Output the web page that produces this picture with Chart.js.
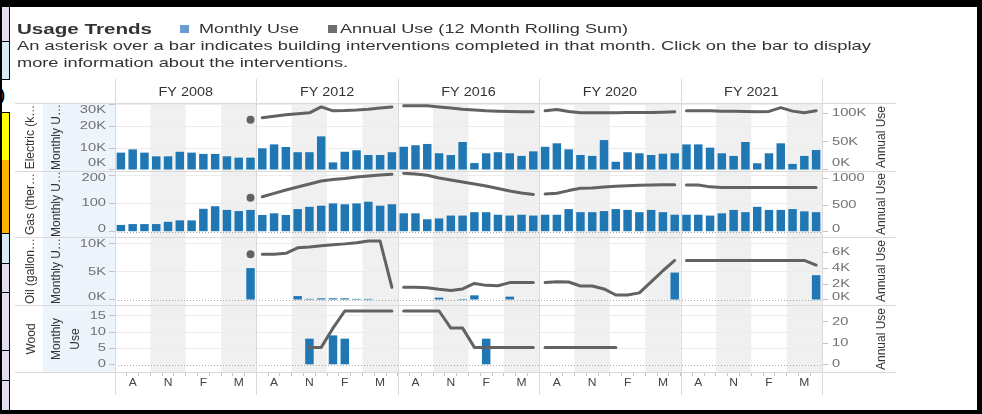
<!DOCTYPE html>
<html>
<head>
<meta charset="utf-8">
<script src="https://cdn.jsdelivr.net/npm/chart.js@4.4.1/dist/chart.umd.min.js"></script>
<style>
  body { margin: 0; background: #fff; font-family: "Liberation Sans", Arial, sans-serif; color: #333; }
  #page { position: relative; width: 982px; height: 414px; overflow: hidden; background: #fff; }
  .abs { position: absolute; }
  .t { position: absolute; white-space: nowrap; line-height: 1; transform-origin: 0 50%; color: #333; }
  .rot { position: absolute; white-space: nowrap; font-size: 12px; line-height: 14px; text-align: center; color: #333;
         transform: translate(-50%, -50%) rotate(-90deg); }
</style>
</head>
<body>
<div id="page">
  <!-- frame around the dashboard piece -->
  <div class="abs" style="left:0;top:0;width:982px;height:7px;background:#000"></div>
  <div class="abs" style="left:977px;top:0;width:5px;height:414px;background:#000"></div>
  <div class="abs" style="left:0;top:410px;width:982px;height:4px;background:#000"></div>
  <div class="abs" style="left:0;top:0;width:2px;height:414px;background:#000"></div>
  <div class="abs" style="left:2px;top:7px;width:7px;height:34px;background:#e4ddee;border-right:1px solid #000;border-bottom:1px solid #000"></div>
  <div class="abs" style="left:2px;top:42px;width:7px;height:37px;background:#d6eef3;border-right:1px solid #000;border-bottom:1px solid #000"></div>
  <div class="abs" style="left:0;top:86px;font:bold 15px 'Liberation Sans',Arial;color:#000">)</div>
  <div class="abs" style="left:2px;top:112px;width:7px;height:47px;background:#ffff00;border:1px solid #000;border-left:0"></div>
  <div class="abs" style="left:2px;top:160px;width:7px;height:73px;background:#ffb300;border-right:1px solid #000;border-bottom:1px solid #000"></div>
  <div class="abs" style="left:2px;top:234px;width:7px;height:29px;background:#d6eef3;border-right:1px solid #000;border-bottom:1px solid #000"></div>
  <div class="abs" style="left:2px;top:264px;width:7px;height:28px;background:#e4ddee;border-right:1px solid #000;border-bottom:1px solid #000"></div>
  <div class="abs" style="left:2px;top:293px;width:7px;height:57px;background:#e4ddee;border-right:1px solid #000;border-bottom:1px solid #000"></div>
  <div class="abs" style="left:2px;top:351px;width:7px;height:29px;background:#e4ddee;border-right:1px solid #000;border-bottom:1px solid #000"></div>
  <div class="abs" style="left:2px;top:381px;width:7px;height:29px;background:#e4ddee;border-right:1px solid #000"></div>

  <!-- row header tint -->
  <div class="abs" style="left:43px;top:103px;width:72px;height:269px;background:#eef4fb"></div>

  <canvas id="usage" width="982" height="414" style="position:absolute;left:0;top:0;width:982px;height:414px"></canvas>

  <div class="t fit" data-w="135" style="left:16.7px;top:20.6px;font-size:15px;font-weight:bold">Usage Trends</div>
  <div class="abs" style="left:180px;top:24.5px;width:8.5px;height:8.5px;background:#6c9bd2"></div>
  <div class="t fit" data-w="100" style="left:199px;top:22.3px;font-size:13px">Monthly Use</div>
  <div class="abs" style="left:328px;top:24.5px;width:8.5px;height:8.5px;background:#6d6d6d"></div>
  <div class="t fit" data-w="288" style="left:340px;top:22.3px;font-size:13px">Annual Use (12 Month Rolling Sum)</div>
  <div class="t fit" data-w="854" style="left:16.7px;top:39px;font-size:13px">An asterisk over a bar indicates building interventions completed in that month. Click on the bar to display</div>
  <div class="t fit" data-w="331" style="left:16.7px;top:55.5px;font-size:13px">more information about the interventions.</div>

  <div class="rot" style="left:30px;top:137px">Electric (k…</div>
  <div class="rot" style="left:56px;top:137px">Monthly U…</div>
  <div class="rot" style="left:30px;top:204px">Gas (ther…</div>
  <div class="rot" style="left:56px;top:204px">Monthly U…</div>
  <div class="rot" style="left:30px;top:271px">Oil (gallon…</div>
  <div class="rot" style="left:56px;top:271px">Monthly U…</div>
  <div class="rot" style="left:30.5px;top:338.5px">Wood</div>
  <div class="rot" style="left:66px;top:338.5px;line-height:19px">Monthly<br>Use</div>
  <div class="rot" style="left:881px;top:137px">Annual Use</div>
  <div class="rot" style="left:881px;top:204px">Annual Use</div>
  <div class="rot" style="left:881px;top:271px">Annual Use</div>
  <div class="rot" style="left:881px;top:338.5px">Annual Use</div>
</div>

<script>
// ---- data ---------------------------------------------------------------
const fiscalYears = ['FY 2008', 'FY 2012', 'FY 2016', 'FY 2020', 'FY 2021'];
const months = ['Jul', 'Aug', 'Sep', 'Oct', 'Nov', 'Dec', 'Jan', 'Feb', 'Mar', 'Apr', 'May', 'Jun'];
const monthTicks = ['', 'A', '', '', 'N', '', '', 'F', '', '', 'M', ''];
const N = null;

// electric, kWh
const electricMonthly = [
  8000, 9500, 8000, 6300, 6300, 8400, 8000, 7400, 7400, 6300, 5700, 5700,
  10000, 11800, 10600, 8200, 8200, 15500, 3500, 8400, 9100, 6900, 6900, 8200,
  10700, 11400, 12000, 7700, 6900, 12900, 3200, 7700, 8200, 7700, 6500, 8600,
  10700, 12300, 9500, 6900, 6500, 13800, 3800, 8200, 7700, 6900, 7500, 7700,
  11800, 11800, 10300, 7700, 6500, 12900, 3100, 7700, 12300, 2800, 6500, 9200
];
const electricAnnual = [
  N, N, N, N, N, N, N, N, N, N, N, 89000,
  92200, 95000, 97800, 99500, 101000, 111500, 104500, 105000, 106000, 107500, 109500, 111500,
  113400, 113400, 113400, 111500, 109600, 107500, 106000, 104600, 104000, 103500, 103000, 102800,
  104600, 107000, 103500, 101000, 101000, 101000, 101000, 101500, 101500, 101500, 102000, 102800,
  104600, 104600, 104600, 104000, 104000, 103500, 103000, 103500, 110300, 104000, 101000, 104600
];

// gas, therms
const gasMonthly = [
  24, 27, 27, 27, 35, 40, 40, 81, 90, 77, 73, 77,
  59, 65, 59, 80, 88, 92, 100, 97, 100, 106, 92, 97,
  65, 65, 44, 47, 57, 57, 69, 69, 60, 57, 60, 57,
  60, 60, 80, 69, 69, 73, 80, 77, 69, 77, 69, 60,
  60, 60, 57, 65, 77, 69, 88, 77, 77, 80, 72, 69
];
const gasAnnual = [
  N, N, N, N, N, N, N, N, N, N, N, 637,
  655, 719, 781, 837, 893, 949, 978, 996, 1024, 1043, 1062, 1075,
  1094, 1080, 1056, 1006, 968, 931, 893, 856, 809, 762, 725, 697,
  706, 720, 770, 813, 818, 837, 850, 861, 869, 875, 880, 880,
  875, 875, 840, 826, 826, 826, 826, 826, 826, 826, 826, 826
];

// oil, gallons
const oilMonthly = [
  N, N, N, N, N, N, N, N, N, N, N, 5700,
  N, N, N, 700, 200, 300, 300, 300, 200, 200, N, N,
  N, N, N, 420, N, 180, 840, N, N, 600, N, N,
  N, N, N, N, N, N, N, N, N, N, N, 4900,
  N, N, N, N, N, N, N, N, N, N, N, 4430
];
const oilAnnual = [
  N, N, N, N, N, N, N, N, N, N, N, 5800,
  5800, 5800, 5900, 6600, 6700, 6850, 7000, 7100, 7250, 7450, 7450, 1600,
  1600, 1600, 1550, 1350, 1200, 1400, 2100, 1850, 1800, 2200, 2200, 2200,
  2200, 2300, 2280, 1770, 1770, 1400, 630, 630, 900, 2300, 3700, 5000,
  5000, 5000, 5000, 5000, 5000, 5000, 5000, 5000, 5000, 5000, 5000, 4400
];

// wood, cords
const woodMonthly = [
  N, N, N, N, N, N, N, N, N, N, N, N,
  N, N, N, N, 8, N, 9, 8, N, N, N, N,
  N, N, N, N, N, N, N, 8, N, N, N, N,
  N, N, N, N, N, N, N, N, N, N, N, N,
  N, N, N, N, N, N, N, N, N, N, N, N
];
const woodAnnual = [
  N, N, N, N, N, N, N, N, N, N, N, N,
  N, N, N, N, 8, 8, 17, 25, 25, 25, 25, 25,
  25, 25, 25, 25, 17, 17, 8, 8, 8, 8, 8, 8,
  8, 8, 8, 8, 8, 8, 8, N, N, N, N, N,
  N, N, N, N, N, N, N, N, N, N, N, N
];

// axis ticks
const electricMonthlyTicks = [0, 10000, 20000, 30000];
const electricMonthlyLabels = ['0K', '10K', '20K', '30K'];
const electricAnnualTicks = [0, 50000, 100000];
const electricAnnualLabels = ['0K', '50K', '100K'];
const gasMonthlyTicks = [0, 100, 200];
const gasMonthlyLabels = ['0', '100', '200'];
const gasAnnualTicks = [0, 500, 1000];
const gasAnnualLabels = ['0', '500', '1000'];
const oilMonthlyTicks = [0, 5000, 10000];
const oilMonthlyLabels = ['0K', '5K', '10K'];
const oilAnnualTicks = [0, 2000, 4000, 6000];
const oilAnnualLabels = ['0K', '2K', '4K', '6K'];
const woodMonthlyTicks = [0, 5, 10, 15];
const woodMonthlyLabels = ['0', '5', '10', '15'];
const woodAnnualTicks = [0, 10, 20];
const woodAnnualLabels = ['0', '10', '20'];

// ---- chart --------------------------------------------------------------
const labels = fiscalYears.flatMap(fy => months.map(m => fy + ' ' + m));
const barColor = '#1f77b4';
const lineColor = '#626262';
const tickFont = '"Liberation Sans", Arial, sans-serif';

const tickLabels = {
  yElecM: electricMonthlyLabels, yGasM: gasMonthlyLabels, yOilM: oilMonthlyLabels, yWoodM: woodMonthlyLabels,
  yElecA: electricAnnualLabels, yGasA: gasAnnualLabels, yOilA: oilAnnualLabels, yWoodA: woodAnnualLabels
};

function isolatedRadius(c) {
  const d = c.dataset.data, i = c.dataIndex;
  if (d[i] == null) return 0;
  const prev = i % 12 !== 0 && d[i - 1] != null;
  const next = i % 12 !== 11 && d[i + 1] != null;
  return prev || next ? 0 : 4;
}

function bars(data, axis) {
  return { type: 'bar', data, yAxisID: axis, backgroundColor: barColor, grouped: false,
           barPercentage: 0.72, categoryPercentage: 1, order: 2 };
}
function rolling(data, axis) {
  return { type: 'line', data, yAxisID: axis, borderColor: lineColor, borderWidth: 3,
           borderCapStyle: 'round', borderJoinStyle: 'round', tension: 0, spanGaps: false, order: 1,
           pointRadius: isolatedRadius, pointHoverRadius: 0, pointBorderWidth: 0, pointBackgroundColor: lineColor,
           segment: { borderColor: c => (c.p0DataIndex % 12 === 11 ? 'rgba(0,0,0,0)' : undefined) } };
}

function monthlyAxis(min, max, ticks, weight) {
  return {
    type: 'linear', position: 'left', stack: 'rows', stackWeight: weight, min, max,
    afterFit: s => { s.width = 55; },
    afterBuildTicks: s => { s.ticks = ticks.map(v => ({ value: v })); },
    ticks: { display: false },
    grid: { color: c => (c.tick && c.tick.value === 0 ? 'rgba(0,0,0,0)' : '#ececec'),
            tickColor: '#c4c4c4', tickLength: 6 },
    border: { color: '#c8c8c8' }
  };
}
function annualAxis(min, max, ticks, weight) {
  return {
    type: 'linear', position: 'right', stack: 'rows', stackWeight: weight, min, max,
    afterFit: s => { s.width = 78; },
    afterBuildTicks: s => { s.ticks = ticks.map(v => ({ value: v })); },
    ticks: { display: false },
    grid: { drawOnChartArea: false, tickColor: '#c4c4c4', tickLength: 6 },
    border: { color: '#c8c8c8' }
  };
}

function stretchText(ctx, text, x, y, sx) {
  ctx.save();
  ctx.translate(x, y);
  ctx.scale(sx, 1);
  ctx.fillText(text, 0, 0);
  ctx.restore();
}

const tableauLook = {
  id: 'tableauLook',
  beforeDraw(chart) {
    const { ctx, chartArea: a, scales: { x } } = chart;
    const step = x.getPixelForValue(1) - x.getPixelForValue(0);
    ctx.save();
    ctx.fillStyle = '#f0f0f0';
    for (let i = 0; i < labels.length; i += 3) {
      const m = i % 12;
      if (m === 3 || m === 9) {
        const x0 = x.getPixelForValue(i) - step / 2;
        ctx.fillRect(x0, a.top, step * 3, a.bottom - a.top);
      }
    }
    ctx.restore();
  },
  beforeDatasetsDraw(chart) {
    const { ctx, chartArea: a, scales } = chart;
    ctx.save();
    ctx.strokeStyle = '#a9a9a9';
    ctx.lineWidth = 1;
    ctx.setLineDash([1, 2]);
    for (const id of ['yGasM', 'yOilM', 'yWoodM']) {
      const y = Math.round(scales[id].getPixelForValue(0)) + 0.5;
      ctx.beginPath();
      ctx.moveTo(a.left, y);
      ctx.lineTo(a.right, y);
      ctx.stroke();
    }
    ctx.restore();
  },
  afterDraw(chart) {
    const { ctx, chartArea: a, scales } = chart;
    const x = scales.x;
    const step = x.getPixelForValue(1) - x.getPixelForValue(0);
    ctx.save();
    // panel separators
    ctx.strokeStyle = '#dadada';
    ctx.lineWidth = 1;
    for (let k = 0; k <= fiscalYears.length; k++) {
      const xx = Math.round(k < fiscalYears.length ? x.getPixelForValue(k * 12) - step / 2
                                                   : x.getPixelForValue(labels.length - 1) + step / 2) + 0.5;
      ctx.beginPath();
      ctx.moveTo(xx, 79);
      ctx.lineTo(xx, 395);
      ctx.stroke();
    }
    const rowEdges = [scales.yElecM.top, scales.yElecM.bottom, scales.yGasM.bottom, scales.yOilM.bottom, scales.yWoodM.bottom];
    for (const e of rowEdges) {
      const yy = Math.round(e) + 0.5;
      ctx.beginPath();
      ctx.moveTo(15, yy);
      ctx.lineTo(896, yy);
      ctx.stroke();
    }
    // fiscal year headers
    ctx.fillStyle = '#333';
    ctx.font = '12px ' + tickFont;
    ctx.textAlign = 'center';
    ctx.textBaseline = 'alphabetic';
    fiscalYears.forEach((fy, k) => {
      const cx = (x.getPixelForValue(k * 12) + x.getPixelForValue(k * 12 + 11)) / 2;
      stretchText(ctx, fy, cx, 96, 1.2);
    });
    // month letters
    ctx.fillStyle = '#444';
    ctx.font = '11.5px ' + tickFont;
    ctx.textBaseline = 'middle';
    labels.forEach((l, i) => {
      const t = monthTicks[i % 12];
      if (t) stretchText(ctx, t, x.getPixelForValue(i), x.top + 10.5, 1.05);
    });
    // value axes
    ctx.fillStyle = '#727272';
    ctx.font = '10.5px ' + tickFont;
    for (const id of Object.keys(tickLabels)) {
      const s = scales[id];
      const left = s.position === 'left';
      ctx.textAlign = left ? 'right' : 'left';
      s.ticks.forEach((t, j) => {
        let y = s.getPixelForValue(t.value);
        y = Math.min(Math.max(y, s.top + 7.5), s.bottom - 7.5);
        stretchText(ctx, tickLabels[id][j], left ? s.right - 9 : s.left + 10, y, 1.4);
      });
    }
    ctx.restore();
  }
};

new Chart(document.getElementById('usage'), {
  type: 'bar',
  data: {
    labels,
    datasets: [
      rolling(electricAnnual, 'yElecA'),
      rolling(gasAnnual, 'yGasA'),
      rolling(oilAnnual, 'yOilA'),
      rolling(woodAnnual, 'yWoodA'),
      bars(electricMonthly, 'yElecM'),
      bars(gasMonthly, 'yGasM'),
      bars(oilMonthly, 'yOilM'),
      bars(woodMonthly, 'yWoodM')
    ]
  },
  options: {
    responsive: false,
    animation: false,
    devicePixelRatio: 1,
    layout: { padding: { left: 60, right: 82, top: 103, bottom: 19 } },
    plugins: { legend: { display: false }, tooltip: { enabled: false } },
    scales: {
      x: {
        type: 'category', offset: true,
        afterFit: s => { s.height = 23; },
        ticks: { display: false },
        grid: { drawOnChartArea: false, tickLength: 4, tickColor: '#c4c4c4', offset: true },
        border: { color: '#d0d0d0' }
      },
      // left axes: last one declared sits on top of the stack
      yWoodM: monthlyAxis(-2.2, 18.3, woodMonthlyTicks, 67),
      yOilM: monthlyAxis(-893, 11250, oilMonthlyTicks, 68),
      yGasM: monthlyAxis(-18.7, 214.5, gasMonthlyTicks, 66),
      yElecM: monthlyAxis(-461, 30876, electricMonthlyTicks, 68),
      // right axes: first one declared sits on top
      yElecA: annualAxis(-1767, 118375, electricAnnualTicks, 68),
      yGasA: annualAxis(-99, 1137, gasAnnualTicks, 66),
      yOilA: annualAxis(-633, 7970, oilAnnualTicks, 68),
      yWoodA: annualAxis(-3.5, 27.8, woodAnnualTicks, 67)
    }
  },
  plugins: [tableauLook]
});

// stretch the html captions to the widths they take in the original
document.querySelectorAll('.fit').forEach(el => {
  const w = el.getBoundingClientRect().width;
  el.style.transform = 'scaleX(' + (Number(el.dataset.w) / w).toFixed(3) + ')';
});
</script>
</body>
</html>
